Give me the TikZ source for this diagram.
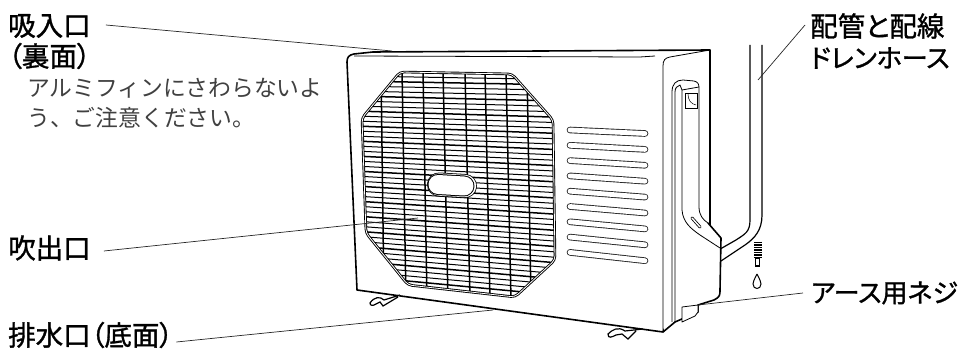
\documentclass[tikz,border=0pt]{standalone}
\usepackage{fontspec}
\setmainfont{Noto Sans CJK JP}
\newfontfamily\labelfont{Noto Sans CJK JP}[RawFeature=+palt,FakeBold=1.2]
\usetikzlibrary{positioning,calc}
\tikzset{
  partlabel/.style={font=\labelfont\fontsize{27.5}{30}\selectfont, text=black, inner sep=0pt, anchor=west, align=left},
  katalabel/.style={partlabel, font=\labelfont\fontsize{26}{30}\selectfont},
  notelabel/.style={font=\fontsize{22.8}{30}\selectfont, text=black!75, inner sep=0pt, anchor=north west, align=left},
  leader/.style={draw, line width=0.7pt, black!85},
  bodyline/.style={draw, line width=1.6pt, line join=round, fill=white},
  thinline/.style={draw, line width=0.8pt, line join=round}
}
\newcommand{\grilleoutline}{(400,72) -- (512,74) -- (553,120) -- (555,260) -- (515,297) -- (408,285) -- (366,233) -- (362,118) -- cycle}
\begin{document}
\begin{tikzpicture}[x=1pt, y=-1pt]
      \useasboundingbox (0,0) rectangle (958,352);
      % pipes behind the unit
      \draw[line width=1.2pt, fill=white] (750,45) -- (750,220) .. controls (750,232) and (745,234) .. (736,240) -- (715,252)
        -- (715,265) -- (745,245) .. controls (755,238) and (762,230) .. (762,215) -- (762,45);
      % back edge and top of the unit
      \draw[bodyline] (373,52) -- (710,50) -- (710,230) -- (663,332) -- (357,290) -- (347,62)
        .. controls (347,57) and (349,55) .. (354,54) -- cycle;
      \draw[thinline] (354,56) -- (640,57) -- (655,56);
      \draw[thinline] (663,332) -- (663,66) .. controls (663,60) and (665,58) .. (670,57) -- (710,50);
      % feet
      \draw[line width=1.2pt, fill=white] (400,295) -- (384,300) .. controls (380,296) and (374,297) .. (370,303)
        .. controls (370,306) and (373,306) .. (376,304) -- (380,302) -- (383,306) -- (398,297);
      \draw[line width=1.2pt, fill=white] (643,329) -- (625,331) .. controls (618,326) and (612,330) .. (608,334)
        .. controls (608,339) and (612,337) .. (616,335) -- (622,334) -- (628,339) -- (636,331);
      % side panel with handle
      \fill[white] (664,331) -- (675,321) -- (698,311) -- (698,305) -- (714,300) -- (720,290) -- (721,238) -- (708,223) -- (699,207) -- (664,207) -- cycle;
      \draw[line width=1.6pt, line join=round] (663,332) -- (675,322) -- (698,312) -- (698,305) -- (714,300)
        .. controls (720,297) and (720,295) .. (720,290) -- (721,238) -- (708,223);
      \draw[thinline] (672,322) -- (672,92) .. controls (672,84) and (676,80) .. (683,80)
        -- (694,81) .. controls (698,82) and (699,84) .. (699,88) -- (699,207) .. controls (699,215) and (703,220) .. (708,223);
      \draw[thinline] (675,322) -- (675,92) .. controls (675,88) and (677,86) .. (680,85) -- (682,90);
      \draw[thinline] (682,90) -- (682,210) .. controls (683,222) and (690,228) .. (700,235) -- (720,248);
      \draw[thinline] (682,90) -- (699,87);
      \draw[line width=0.7pt] (685,93) rectangle (697,108);
      \draw[line width=0.5pt] (688,94) .. controls (688,100) and (691,104) .. (696,105);
      \draw[line width=3pt, line cap=round] (692,218) -- (700,227);
      \draw[line width=1.4pt, white, line cap=round] (692,218) -- (700,227);
      \draw[thinline, fill=white] (682,307) -- (682,322) -- (695,316) -- (698,312) -- (698,305) -- cycle;
      % drain tip and water drop
      \draw[line width=8pt, dash pattern=on 1.5pt off 1pt] (757.5,242) -- (757.5,258);
      \draw[line width=1.4pt, fill=white] (755.5,258) rectangle (759.5,266);
      \draw[line width=1pt] (757,274) .. controls (754,280) and (753,282) .. (753,284)
        .. controls (753,290) and (761,290) .. (761,284) .. controls (761,282) and (760,280) .. (757,274);
      % grille
      \begin{scope}
        \clip[rounded corners=4pt] \grilleoutline;
        \foreach \n in {0,...,41} {
          \pgfmathsetmacro{\yl}{76+\n*5}
          \pgfmathsetmacro{\yr}{79.5+\n*5.4}
          \pgfmathsetmacro{\wd}{ifthenelse(mod(\n,3)==1,1.5,1)}
          \draw[line width=\wd pt] (355,\yl) -- (560,\yr);
        }
        \foreach \xt/\xb in {381/384,402/406,423/427,443/448,465/470,485/490,506/511,527/531} {
          \draw[line width=1.5pt] (\xt,70) -- (\xb,300);
        }
      \end{scope}
      \draw[line width=2.6pt, rounded corners=4pt] \grilleoutline;
      \draw[line width=0.8pt, white, rounded corners=4pt] \grilleoutline;
      \draw[line width=24pt, line cap=round] (439,184.5) -- (465,186);
      \draw[line width=22.4pt, white, line cap=round] (439,184.5) -- (465,186);
      \draw[line width=21pt, line cap=round] (438,184.5) -- (464,186);
      \draw[line width=19pt, white, line cap=round] (438,184.5) -- (464,186);
      % vent slots
      \foreach \n in {0,...,8} {
        \pgfmathsetmacro{\yl}{130+\n*15.3}
        \pgfmathsetmacro{\yr}{133.5+\n*15.9}
        \draw[line width=6.6pt, line cap=round, black!85] (570,\yl) -- (645,\yr);
        \draw[line width=4.8pt, line cap=round, white] (570,\yl) -- (645,\yr);
      }
      % labels
      \node[partlabel] (inlet) at (8,26) {吸入口};
      \node[partlabel] (inletback) at (8,56) {（裏面）};
      \node[notelabel] (caution) at (27,78) {アルミフィンにさわらないよ\\う、ご注意ください。};
      \node[partlabel] (outlet) at (8,248) {吹出口};
      \node[partlabel] (drainport) at (8,335) {排水口（底面）};
      \node[partlabel] (piping) at (810,26) {配管と配線};
      \node[katalabel] (hose) at (810,58) {ドレンホース};
      \node[katalabel] (earth) at (811,293) {アース用ネジ};
      % leaders
      \coordinate (intop) at (392,51);
      \coordinate (outgrille) at (418,218);
      \coordinate (drainbase) at (493,310);
      \coordinate (hosepipe) at (758,80);
      \coordinate (earthscrew) at (698,305);
      \draw[leader] (inlet.east)+(15,-1) -- (intop);
      \draw[leader] (outlet.east)+(13,3) -- (outgrille);
      \draw[leader] (drainport.east)+(3,7) -- (drainbase);
      \draw[leader] (piping.west)+(-5,-1) -- (hosepipe);
      \draw[leader] (earth.west)+(-8,0) -- (earthscrew);
    \end{tikzpicture}
\end{document}
